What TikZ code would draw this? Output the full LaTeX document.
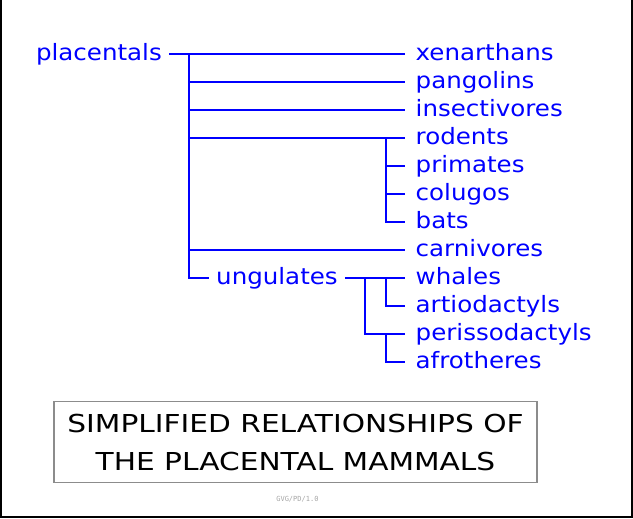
\documentclass[tikz,border=0pt]{standalone}
\usepackage{fontspec}
\setmainfont{DejaVu Sans}
\newfontfamily\lblfont[FakeStretch=1.09]{DejaVu Sans}
\newfontfamily\ttlfont[FakeStretch=1.2]{DejaVu Sans}
\newfontfamily\ftfont{DejaVu Sans Mono}
\newcommand\lblsize{\lblfont\fontsize{22.5bp}{27bp}\selectfont}
\begin{document}
\lblsize
\begin{tikzpicture}[x=1bp,y=-1bp,
  lbl/.style={text=blue, font=\lblsize, inner ysep=0pt, inner xsep=7bp},
  leaf/.style={lbl, inner xsep=10.5bp, anchor=mid west},
  link/.style={draw=blue, line width=1.3bp},
  ttl/.style={draw=gray!90, line width=1.2bp, minimum width=483bp, minimum height=81bp, align=center, text=black, font=\ttlfont\fontsize{24.7bp}{37.7bp}\selectfont}]
\useasboundingbox (0,0) rectangle (633,519);
\fill[white] (0,0) rectangle (633,519);
% frame
\draw[line width=2bp] (1,0) -- (1,517) -- (632,517) -- (632,0);
% nodes
\node[lbl, anchor=mid east] (plac) at (169,54) {placentals};
\node[leaf] (xen) at (405,54) {xenarthans};
\node[leaf] (pan) at (405,82) {pangolins};
\node[leaf] (ins) at (405,110) {insectivores};
\node[leaf] (rod) at (405,138) {rodents};
\node[leaf] (pri) at (405,166) {primates};
\node[leaf] (col) at (405,194) {colugos};
\node[leaf] (bat) at (405,222) {bats};
\node[leaf] (car) at (405,250) {carnivores};
\node[leaf] (wha) at (405,278) {whales};
\node[leaf] (art) at (405,306) {artiodactyls};
\node[leaf] (per) at (405,334) {perissodactyls};
\node[leaf] (afr) at (405,362) {afrotheres};
\node[lbl, anchor=mid west] (ung) at (209,278) {ungulates};
% junctions
\coordinate (j1) at (189,54);
\coordinate (j2) at (386,138);
\coordinate (j3) at (365,278);
\coordinate (j4) at (386,278);
\coordinate (j5) at (386,334);
% connectors
\draw[link] (plac.mid east) -- (xen.mid west);
\draw[link] (j1) |- (pan.mid west);
\draw[link] (j1) |- (ins.mid west);
\draw[link] (j1) |- (rod.mid west);
\draw[link] (j1) |- (car.mid west);
\draw[link] (j1) |- (ung.mid west);
\draw[link] (j2) |- (pri.mid west);
\draw[link] (j2) |- (col.mid west);
\draw[link] (j2) |- (bat.mid west);
\draw[link] (ung.mid east) -- (wha.mid west);
\draw[link] (j3) |- (per.mid west);
\draw[link] (j4) |- (art.mid west);
\draw[link] (j5) |- (afr.mid west);
% title
\node[ttl] (title) at (295.5,442.2) {SIMPLIFIED RELATIONSHIPS OF\\THE PLACENTAL MAMMALS};
\node[text=gray!70, font=\ftfont\fontsize{7bp}{8bp}\selectfont, inner sep=0pt] (foot) at (297.4,499) {GVG/PD/1.0};
\end{tikzpicture}
\end{document}
